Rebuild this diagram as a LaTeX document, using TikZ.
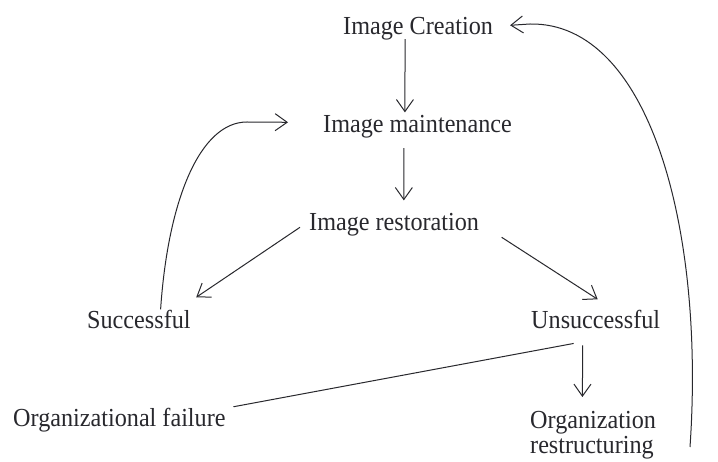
\documentclass[tikz,border=0pt]{standalone}
\usepackage{fontspec}
\setmainfont{Liberation Serif}[FakeStretch=0.93]
\usetikzlibrary{arrows.meta,calc}
\definecolor{ink}{RGB}{40,40,45}
\begin{document}
\begin{tikzpicture}[x=1pt,y=-1pt,
  lbl/.style={inner sep=0pt,anchor=base west,text=ink,font=\fontsize{26}{24.5}\selectfont},
  arr/.style={draw=ink,line width=1pt,-{Straight Barb[length=12pt,width=17pt]}},
  ln/.style={draw=ink,line width=1pt}]
\useasboundingbox (0,0) rectangle (718,462);
\fill[white] (0,0) rectangle (718,462);
% nodes
\node[lbl] (creation) at (343,35) {Image Creation};
\node[lbl] (maintenance) at (323,133) {Image maintenance};
\node[lbl] (restoration) at (309,231) {Image restoration};
\node[lbl] (successful) at (87,329) {Successful};
\node[lbl] (unsuccessful) at (531,329) {Unsuccessful};
\node[lbl] (orgfail) at (13,427) {Organizational failure};
\node[lbl,anchor=north west,align=left] (orgrest) at (530,411.2) {Organization\\restructuring};
\coordinate (loopstart) at (690,447);
% connectors
\draw[arr] ($(creation.south)+(-13,-1.6)$) -- ($(maintenance.north)+(-12.6,-3.2)$);
\draw[arr] ($(maintenance.south)+(-13.6,9.4)$) -- ($(restoration.north)+(9.7,-13.2)$);
\draw[arr] ($(restoration.west)+(-9,2.1)$) -- ($(successful.north east)+(5.4,-13.2)$);
\draw[arr] ($(restoration.east)+(22.4,12.1)$) -- ($(unsuccessful.north)+(2,-11.2)$);
\draw[ln] ($(unsuccessful.south)+(-22,14)$) -- ($(orgfail.east)+(7.7,-13.9)$);
\draw[arr] ($(unsuccessful.south)+(-13,16)$) -- ($(orgrest.north)+(-10.7,-14.2)$);
% feedback loops
\draw[arr] (loopstart) .. controls (705,230) and (650,22) .. (530,24) -- ($(creation.east)+(17,-3.9)$);
\draw[arr] ($(successful.north)+(21.7,-1.2)$) .. controls (168,200) and (200,122) .. (247,122) -- ($(maintenance.west)+(-35,-4.9)$);
\end{tikzpicture}
\end{document}
